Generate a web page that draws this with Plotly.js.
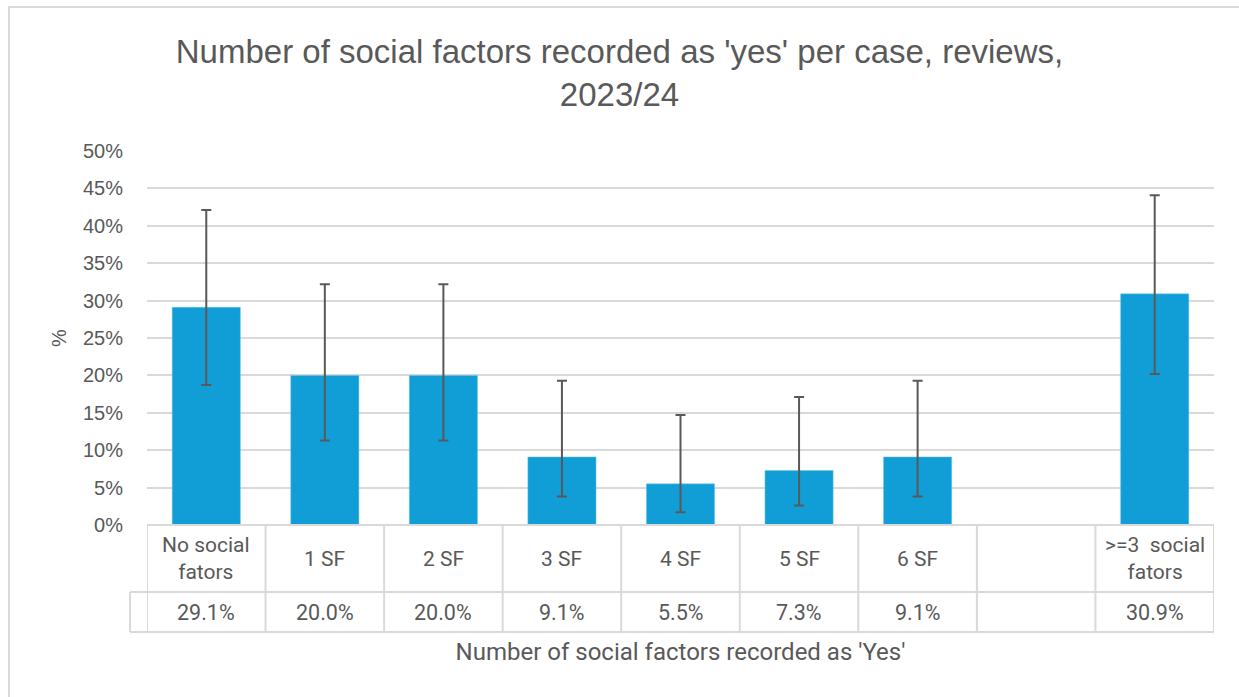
<!DOCTYPE html>
<html>
<head>
<meta charset="utf-8">
<script src="https://cdn.plot.ly/plotly-3.0.1.min.js"></script>
<style>
  html, body { margin: 0; padding: 0; width: 1239px; height: 697px; overflow: hidden; background: #ffffff; }
  #chart { position: absolute; left: 0; top: 0; width: 1239px; height: 697px; }
  #frame { position: absolute; left: 8px; top: 6px; width: 1240px; height: 700px; border: 2px solid #d9d9d9; box-sizing: border-box; pointer-events: none; }
</style>
</head>
<body>
<div id="chart"></div>
<div id="frame"></div>
<script>
// ---- data ----
const categories = ["No social<br>fators", "1 SF", "2 SF", "3 SF", "4 SF", "5 SF", "6 SF", "", ">=3  social<br>fators"];
const values     = [29.1, 20.0, 20.0, 9.1, 5.5, 7.3, 9.1, null, 30.9];
const ciUpper    = [42.1, 32.2, 32.2, 19.3, 14.7, 17.1, 19.3, null, 44.1];
const ciLower    = [18.7, 11.3, 11.3, 3.8, 1.7, 2.6, 3.8, null, 20.2];
const yTickVals  = [0, 5, 10, 15, 20, 25, 30, 35, 40, 45, 50];
const yTickText  = ["0%", "5%", "10%", "15%", "20%", "25%", "30%", "35%", "40%", "45%", "50%"];

const xIdx = categories.map((_, i) => i);
const errPlus  = values.map((v, i) => v === null ? null : +(ciUpper[i] - v).toFixed(2));
const errMinus = values.map((v, i) => v === null ? null : +(v - ciLower[i]).toFixed(2));

const grey = "#595959";
const lineC = "#d9d9d9";
const tableFont = "Roboto, Liberation Sans, sans-serif";

const trace = {
  type: "bar",
  x: xIdx,
  y: values,
  width: 0.575,
  marker: { color: "#119ed6", line: { color: "#6cc4e8", width: 0.5 } },
  error_y: { type: "data", symmetric: false, array: errPlus, arrayminus: errMinus,
             color: grey, thickness: 2, width: 5, visible: true },
  hoverinfo: "skip"
};

// table geometry (paper units): plot bottom = 0
const rowCatBottom = -67 / 374;
const rowValBottom = -107 / 374;
const legendCellX = -17 / 1067;

const shapes = [];
shapes.push({ type: "line", xref: "paper", yref: "paper", x0: 0, x1: 1, y0: 0, y1: 0, line: { color: lineC, width: 2 } });
shapes.push({ type: "line", xref: "paper", yref: "paper", x0: legendCellX, x1: 1, y0: rowCatBottom, y1: rowCatBottom, line: { color: lineC, width: 2 } });
shapes.push({ type: "line", xref: "paper", yref: "paper", x0: legendCellX, x1: 1, y0: rowValBottom, y1: rowValBottom, line: { color: lineC, width: 2 } });
for (let k = 0; k <= categories.length; k++) {
  shapes.push({ type: "line", xref: "x", yref: "paper", x0: k - 0.5, x1: k - 0.5, y0: 0, y1: rowValBottom, line: { color: lineC, width: 2 } });
}
shapes.push({ type: "line", xref: "paper", yref: "paper", x0: legendCellX, x1: legendCellX, y0: rowCatBottom, y1: rowValBottom, line: { color: lineC, width: 2 } });

const annotations = [];
categories.forEach((c, i) => {
  if (c) annotations.push({ xref: "x", yref: "paper", x: i, y: rowCatBottom / 2, text: c, showarrow: false,
    xanchor: "center", yanchor: "middle", font: { family: tableFont, size: 21, color: grey } });
  if (values[i] !== null) annotations.push({ xref: "x", yref: "paper", x: i, y: (rowCatBottom + rowValBottom) / 2,
    text: values[i].toFixed(1) + "%", showarrow: false, xanchor: "center", yanchor: "middle",
    font: { family: tableFont, size: 21.5, color: grey } });
});

const layout = {
  width: 1239, height: 697,
  paper_bgcolor: "#ffffff", plot_bgcolor: "#ffffff",
  margin: { l: 147, r: 25, t: 151, b: 172 },
  showlegend: false,
  title: { text: "Number of social factors recorded as 'yes' per case, reviews,<br>2023/24",
           font: { family: "Liberation Sans, Arial, sans-serif", size: 33, color: grey },
           x: 0.5, xanchor: "center", y: 0.91, yanchor: "top" },
  xaxis: { range: [-0.5, categories.length - 0.5], showticklabels: false, showgrid: false, zeroline: false,
           showline: false, ticks: "", fixedrange: true,
           title: { text: "Number of social factors recorded as 'Yes'", standoff: 118,
                    font: { family: tableFont, size: 24, color: grey } } },
  yaxis: { range: [0, 50], tickvals: yTickVals, ticktext: yTickText, showgrid: true, gridcolor: lineC, gridwidth: 2,
           zeroline: false, showline: false, ticks: "", ticklabelstandoff: 23, fixedrange: true,
           tickfont: { family: "Liberation Sans, Arial, sans-serif", size: 20, color: grey },
           title: { text: "%", standoff: 10, font: { family: "Liberation Sans, Arial, sans-serif", size: 20, color: grey } } },
  shapes: shapes,
  annotations: annotations
};

Plotly.newPlot("chart", [trace], layout, { displayModeBar: false, staticPlot: true });
</script>
</body>
</html>
